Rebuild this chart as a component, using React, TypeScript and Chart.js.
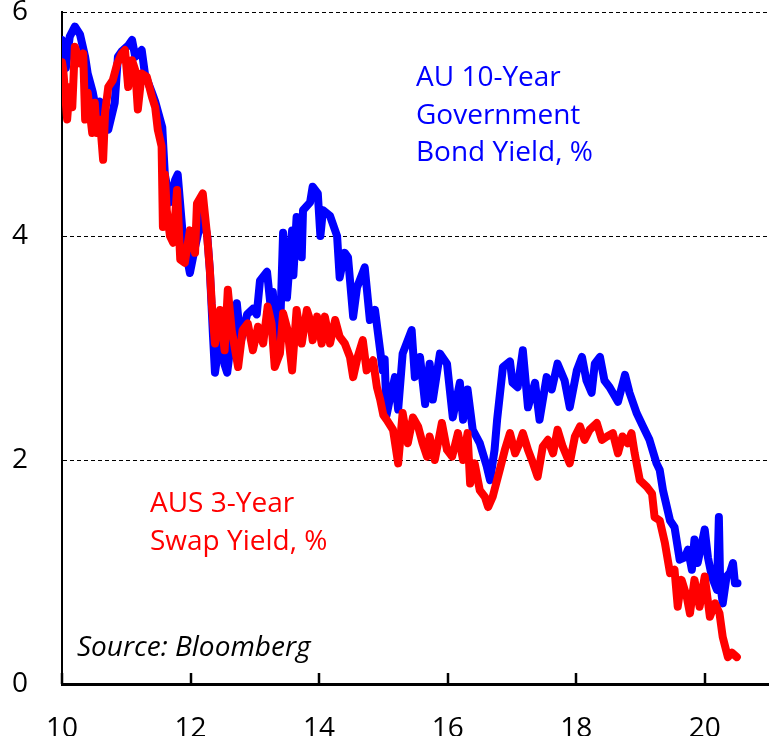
import React, { useEffect, useRef } from "react";
import { Chart, registerables } from "chart.js";

Chart.register(...registerables);

const xTickValues = [10, 12, 14, 16, 18, 20];
const yTickValues = [0, 2, 4, 6];

const bondLabel = ["AU 10-Year", "Government", "Bond Yield, %"];
const swapLabel = ["AUS 3-Year", "Swap Yield, %"];
const sourceLabel = "Source: Bloomberg";

const bondYears = [
  10.00, 10.03, 10.06, 10.12, 10.20, 10.28, 10.36, 10.40, 10.48, 10.54,
  10.59, 10.64, 10.72, 10.82, 10.87, 10.93, 11.03, 11.09, 11.14, 11.24,
  11.29, 11.32, 11.40, 11.45, 11.56, 11.60, 11.68, 11.76, 11.80, 11.88,
  11.99, 12.07, 12.19, 12.26, 12.30, 12.35, 12.38, 12.46, 12.53, 12.57,
  12.64, 12.72, 12.78, 12.88, 12.97, 13.03, 13.08, 13.19, 13.25, 13.28,
  13.34, 13.39, 13.44, 13.50, 13.58, 13.60, 13.65, 13.73, 13.75, 13.86,
  13.90, 13.98, 14.02, 14.06, 14.17, 14.28, 14.32, 14.40, 14.45, 14.53,
  14.59, 14.71, 14.79, 14.87, 14.99, 15.02, 15.05, 15.10, 15.18, 15.23,
  15.30, 15.44, 15.49, 15.57, 15.65, 15.72, 15.77, 15.88, 15.99, 16.08,
  16.19, 16.24, 16.31, 16.39, 16.50, 16.61, 16.66, 16.73, 16.77, 16.86,
  16.97, 17.01, 17.09, 17.17, 17.25, 17.36, 17.43, 17.54, 17.62, 17.71,
  17.82, 17.90, 18.01, 18.09, 18.16, 18.24, 18.29, 18.37, 18.44, 18.52,
  18.57, 18.65, 18.76, 18.83, 18.94, 19.04, 19.14, 19.25, 19.30, 19.35,
  19.46, 19.53, 19.61, 19.69, 19.74, 19.80, 19.84, 19.89, 20.00, 20.05,
  20.11, 20.19, 20.22, 20.24, 20.28, 20.34, 20.39, 20.44, 20.47, 20.51,
];
const bondYields = [
  5.75, 5.60, 5.50, 5.78, 5.87, 5.80, 5.60, 5.45, 5.28, 5.10,
  5.20, 4.98, 4.95, 5.19, 5.60, 5.65, 5.70, 5.75, 5.60, 5.66,
  5.45, 5.40, 5.28, 5.20, 4.97, 4.55, 4.30, 4.50, 4.55, 4.00,
  3.67, 3.90, 4.20, 4.00, 3.70, 3.10, 2.78, 3.10, 2.85, 2.78,
  3.10, 3.40, 3.05, 3.30, 3.35, 3.30, 3.60, 3.68, 3.35, 3.50,
  3.00, 3.10, 4.03, 3.45, 4.05, 3.65, 4.17, 3.81, 4.23, 4.30,
  4.44, 4.38, 4.00, 4.23, 4.18, 4.00, 3.63, 3.85, 3.81, 3.28,
  3.54, 3.72, 3.25, 3.34, 2.80, 2.90, 2.40, 2.54, 2.74, 2.45,
  2.95, 3.16, 2.74, 2.92, 2.50, 2.86, 2.54, 2.95, 2.86, 2.38,
  2.69, 2.36, 2.63, 2.27, 2.15, 1.94, 1.82, 2.09, 2.36, 2.83,
  2.88, 2.69, 2.65, 2.98, 2.47, 2.69, 2.36, 2.74, 2.63, 2.86,
  2.71, 2.47, 2.80, 2.92, 2.71, 2.60, 2.86, 2.92, 2.71, 2.65,
  2.60, 2.52, 2.76, 2.60, 2.42, 2.30, 2.18, 1.97, 1.91, 1.73,
  1.46, 1.40, 1.11, 1.13, 1.20, 1.02, 1.29, 1.08, 1.38, 1.13,
  0.96, 0.84, 1.49, 0.90, 0.72, 0.96, 0.99, 1.08, 0.90, 0.90,
];

const swapYears = [
  10.00, 10.02, 10.08, 10.12, 10.16, 10.20, 10.28, 10.33, 10.36, 10.40,
  10.47, 10.51, 10.54, 10.59, 10.64, 10.67, 10.72, 10.79, 10.86, 10.93,
  10.98, 11.03, 11.09, 11.14, 11.18, 11.24, 11.32, 11.40, 11.45, 11.49,
  11.55, 11.57, 11.60, 11.63, 11.68, 11.73, 11.79, 11.84, 11.91, 11.99,
  12.07, 12.10, 12.19, 12.26, 12.30, 12.33, 12.38, 12.46, 12.53, 12.58,
  12.64, 12.74, 12.81, 12.89, 12.97, 13.05, 13.13, 13.20, 13.26, 13.31,
  13.39, 13.44, 13.51, 13.58, 13.65, 13.73, 13.81, 13.86, 13.90, 13.97,
  14.04, 14.09, 14.17, 14.25, 14.32, 14.40, 14.48, 14.53, 14.60, 14.68,
  14.74, 14.84, 14.90, 14.95, 15.00, 15.05, 15.15, 15.23, 15.30, 15.38,
  15.46, 15.54, 15.61, 15.68, 15.72, 15.80, 15.91, 15.99, 16.07, 16.16,
  16.24, 16.31, 16.35, 16.42, 16.50, 16.58, 16.63, 16.70, 16.81, 16.89,
  16.97, 17.05, 17.12, 17.17, 17.25, 17.33, 17.40, 17.48, 17.56, 17.64,
  17.71, 17.79, 17.90, 17.98, 18.06, 18.13, 18.21, 18.32, 18.40, 18.48,
  18.57, 18.65, 18.72, 18.80, 18.86, 18.91, 18.99, 19.10, 19.18, 19.22,
  19.30, 19.38, 19.46, 19.53, 19.58, 19.64, 19.72, 19.77, 19.84, 19.92,
  20.00, 20.08, 20.16, 20.23, 20.28, 20.36, 20.42, 20.50,
];
const swapYields = [
  5.55, 5.48, 5.04, 5.33, 5.15, 5.69, 5.54, 5.63, 5.04, 5.28,
  4.92, 5.19, 4.92, 5.04, 4.68, 5.10, 5.33, 5.39, 5.54, 5.63,
  5.66, 5.33, 5.57, 5.48, 5.13, 5.45, 5.42, 5.24, 5.15, 4.95,
  4.80, 4.08, 4.55, 4.23, 4.00, 3.94, 4.41, 3.79, 3.76, 4.05,
  3.85, 4.29, 4.38, 3.99, 3.70, 3.40, 3.04, 3.34, 2.98, 3.52,
  3.16, 2.83, 3.16, 3.22, 2.98, 3.19, 3.04, 3.37, 3.22, 2.83,
  2.95, 3.31, 3.16, 2.80, 3.34, 3.04, 3.34, 3.25, 3.07, 3.28,
  3.04, 3.28, 3.04, 3.25, 3.10, 3.04, 2.92, 2.74, 2.92, 3.07,
  2.80, 2.89, 2.65, 2.54, 2.40, 2.36, 2.27, 1.97, 2.42, 2.15,
  2.38, 2.30, 2.15, 2.03, 2.21, 2.00, 2.33, 2.09, 2.03, 2.24,
  2.00, 2.24, 1.79, 1.97, 1.73, 1.67, 1.58, 1.67, 1.91, 2.09,
  2.24, 2.06, 2.15, 2.24, 2.09, 1.97, 1.85, 2.12, 2.18, 2.06,
  2.27, 2.12, 1.97, 2.21, 2.30, 2.18, 2.27, 2.33, 2.18, 2.21,
  2.24, 2.06, 2.21, 2.15, 2.24, 2.06, 1.82, 1.76, 1.70, 1.49,
  1.46, 1.26, 0.99, 1.02, 0.69, 0.93, 0.78, 0.63, 0.93, 0.69,
  0.96, 0.60, 0.72, 0.63, 0.42, 0.24, 0.28, 0.24,
];

const FONT = "'Open Sans', 'DejaVu Sans', sans-serif";

const toPoints = (xs: number[], ys: number[]) => xs.map((x, i) => ({ x, y: ys[i] }));

const decorPlugin = {
  id: "decor",
  afterDraw(chart: any) {
    const { ctx, chartArea, scales } = chart;
    const xs = scales.x;
    ctx.save();
    // inward tick marks on the x axis
    ctx.strokeStyle = "#000";
    ctx.lineWidth = 2.5;
    xTickValues.forEach((v) => {
      const px = Math.round(xs.getPixelForValue(v));
      ctx.beginPath();
      ctx.moveTo(px, chartArea.bottom);
      ctx.lineTo(px, chartArea.bottom - 11);
      ctx.stroke();
    });
    // annotations
    ctx.textBaseline = "alphabetic";
    ctx.textAlign = "left";
    ctx.font = `28px ${FONT}`;
    ctx.fillStyle = "#0000FF";
    bondLabel.forEach((t, i) => ctx.fillText(t, 416, 86 + i * 37.5));
    ctx.fillStyle = "#FF0000";
    swapLabel.forEach((t, i) => ctx.fillText(t, 150, 512 + i * 37.5));
    ctx.fillStyle = "#000";
    ctx.font = `italic 28px ${FONT}`;
    ctx.fillText(sourceLabel, 77, 656);
    ctx.restore();
  },
};

export default function App() {
  const canvasRef = useRef<HTMLCanvasElement | null>(null);

  useEffect(() => {
    if (!canvasRef.current) return;
    const chart = new Chart(canvasRef.current, {
      type: "line",
      data: {
        datasets: [
          {
            label: "AUS 3-Year Swap Yield, %",
            data: toPoints(swapYears, swapYields),
            borderColor: "#FF0000",
            backgroundColor: "#FF0000",
            borderWidth: 8,
            pointRadius: 0,
            tension: 0,
            borderJoinStyle: "round",
            borderCapStyle: "round",
            order: 0,
          },
          {
            label: "AU 10-Year Government Bond Yield, %",
            data: toPoints(bondYears, bondYields),
            borderColor: "#0000FF",
            backgroundColor: "#0000FF",
            borderWidth: 8,
            pointRadius: 0,
            tension: 0,
            borderJoinStyle: "round",
            borderCapStyle: "round",
            order: 1,
          },
        ],
      },
      options: {
        responsive: false,
        animation: false,
        layout: { padding: { top: 12, right: 0, left: 0, bottom: 0 } },
        plugins: {
          legend: { display: false },
          tooltip: { enabled: false },
        },
        scales: {
          x: {
            type: "linear",
            min: 10,
            max: 21,
            afterBuildTicks: (scale: any) => {
              scale.ticks = xTickValues.map((v) => ({ value: v }));
            },
            afterFit: (scale: any) => {
              scale.height = 52;
              scale.paddingRight = 0;
            },
            grid: { display: false, drawTicks: false },
            border: { display: true, color: "#000", width: 3 },
            ticks: {
              color: "#000",
              font: { family: FONT, size: 28, lineHeight: 1 },
              padding: 31,
              maxRotation: 0,
              autoSkip: false,
            },
          },
          y: {
            type: "linear",
            min: 0,
            max: 6,
            afterBuildTicks: (scale: any) => {
              scale.ticks = yTickValues.map((v) => ({ value: v }));
            },
            afterFit: (scale: any) => {
              scale.width = 62;
              scale.paddingTop = 0;
              scale.paddingBottom = 0;
            },
            grid: {
              display: true,
              drawTicks: false,
              color: (c: any) => (c.tick && c.tick.value === 0 ? "rgba(0,0,0,0)" : "#000"),
              lineWidth: 1,
            },
            border: { display: true, color: "#000", width: 2, dash: [4, 3] },
            ticks: {
              color: "#000",
              font: { family: FONT, size: 28, lineHeight: 1 },
              padding: 34,
            },
          },
        },
      },
      plugins: [decorPlugin],
    });
    return () => chart.destroy();
  }, []);

  return (
    <div style={{ position: "absolute", left: 0, top: 0, width: 769, height: 736 }}>
      <canvas ref={canvasRef} width={769} height={736} style={{ display: "block" }} />
    </div>
  );
}
